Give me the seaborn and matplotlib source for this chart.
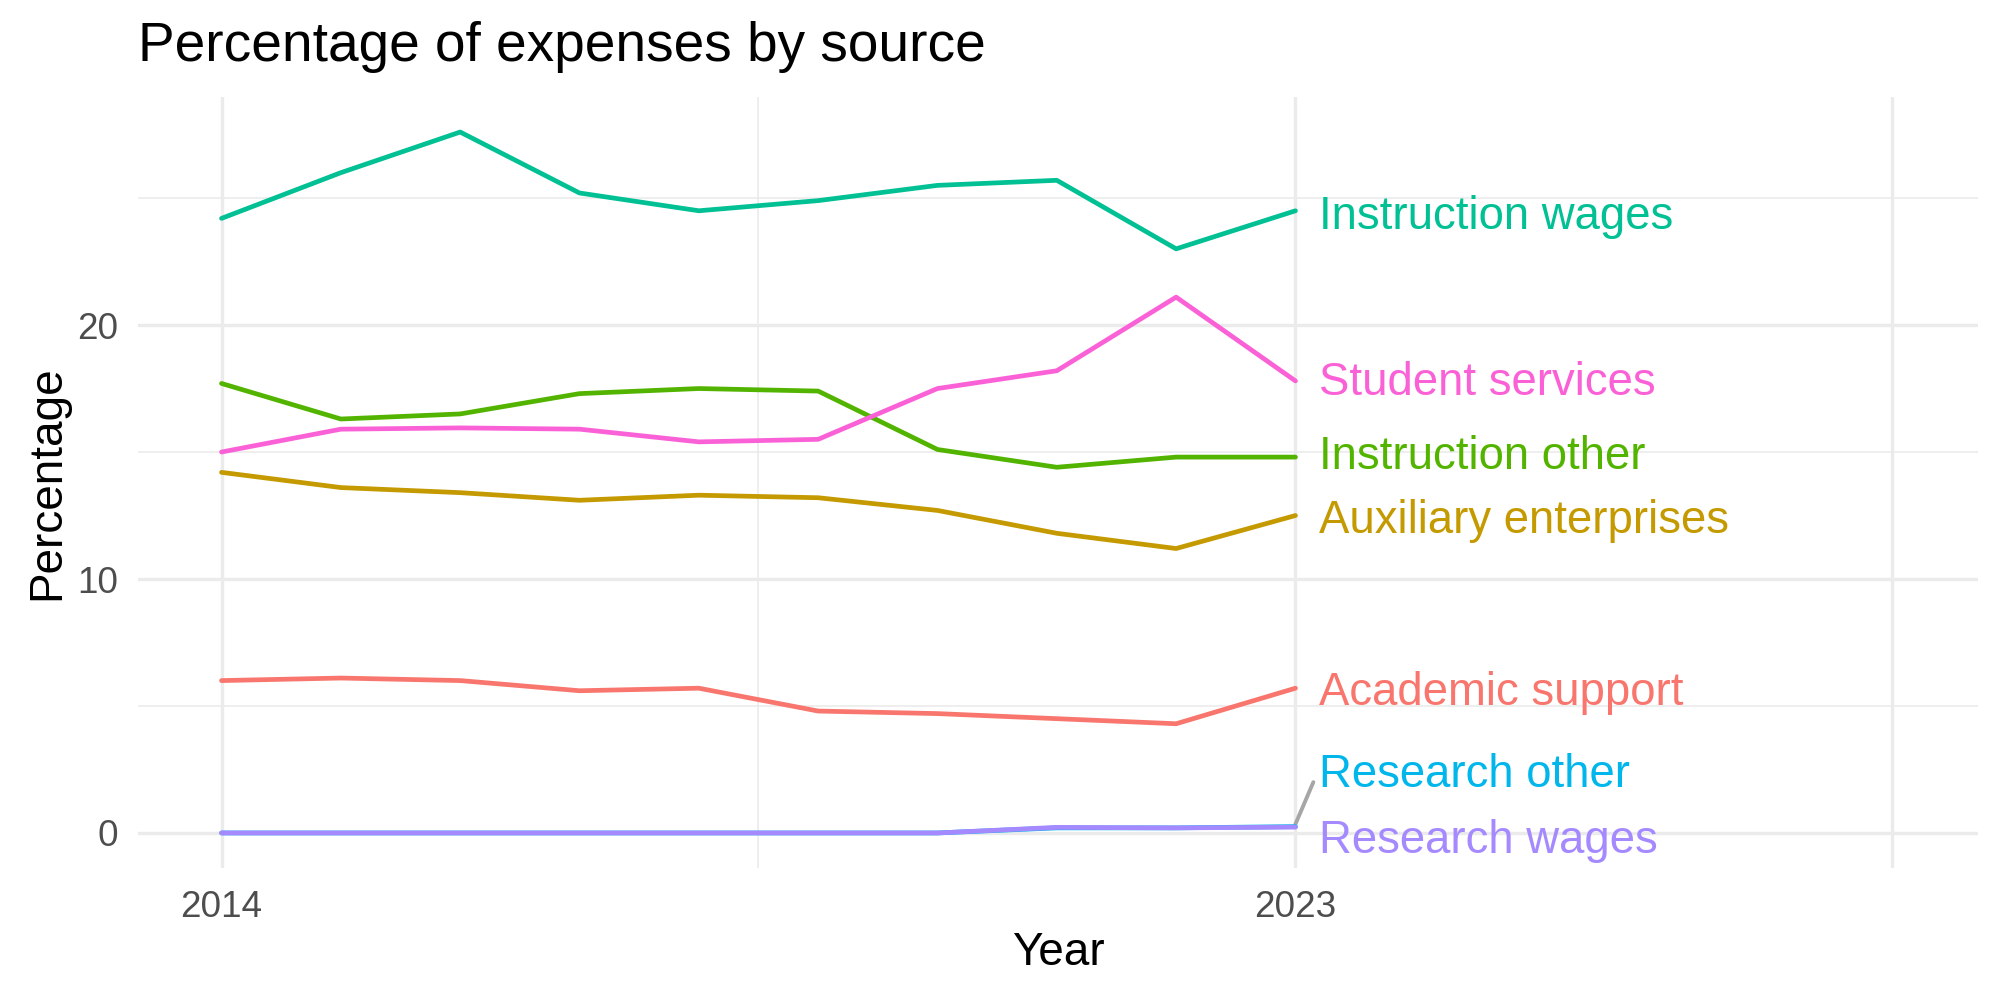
import numpy as np
import pandas as pd
import seaborn as sns
import matplotlib.pyplot as plt

years = list(range(2014, 2024))

academic_support = [6.0, 6.1, 6.0, 5.6, 5.7, 4.8, 4.7, 4.5, 4.3, 5.7]
auxiliary_enterprises = [14.2, 13.6, 13.4, 13.1, 13.3, 13.2, 12.7, 11.8, 11.2, 12.5]
instruction_other = [17.7, 16.3, 16.5, 17.3, 17.5, 17.4, 15.1, 14.4, 14.8, 14.8]
instruction_wages = [24.2, 26.0, 27.6, 25.2, 24.5, 24.9, 25.5, 25.7, 23.0, 24.5]
research_other = [0.0, 0.0, 0.0, 0.0, 0.0, 0.0, 0.0, 0.2, 0.2, 0.25]
research_wages = [0.0, 0.0, 0.0, 0.0, 0.0, 0.0, 0.0, 0.22, 0.2, 0.23]
student_services = [15.0, 15.9, 15.95, 15.9, 15.4, 15.5, 17.5, 18.2, 21.1, 17.8]

sources = ["Academic support", "Auxiliary enterprises", "Instruction other",
           "Instruction wages", "Research other", "Research wages", "Student services"]
colors = ["#F8766D", "#C49A00", "#53B400", "#00C094", "#00B6EB", "#A58AFF", "#FB61D7"]

# label y positions (repelled, as in the original)
label_y = [5.5, 12.3, 14.8, 24.25, 2.3, -0.3, 17.7]


def get_data():
    series = [academic_support, auxiliary_enterprises, instruction_other,
              instruction_wages, research_other, research_wages, student_services]
    rows = []
    for name, vals in zip(sources, series):
        for y, v in zip(years, vals):
            rows.append([y, v, name])
    return pd.DataFrame(rows, columns=["Year", "Percentage", "Source"])


def graph(df):
    sns.set_style("white")
    plt.rcParams["font.family"] = ["Liberation Sans", "DejaVu Sans"]
    plt.rcParams["text.color"] = "black"
    plt.rcParams["axes.labelcolor"] = "black"

    fig = plt.figure(figsize=(10, 5), dpi=200)
    ax = fig.add_axes([0.069, 0.132, 0.92, 0.771])

    # grid like theme_minimal
    for v in [2018.5]:
        ax.axvline(v, color="#EBEBEB", lw=0.6, zorder=0)
    for v in [2014, 2023, 2028]:
        ax.axvline(v, color="#EBEBEB", lw=1.2, zorder=0)
    for v in [5, 15, 25]:
        ax.axhline(v, color="#EBEBEB", lw=0.6, zorder=0)
    for v in [0, 10, 20]:
        ax.axhline(v, color="#EBEBEB", lw=1.2, zorder=0)

    sns.lineplot(data=df, x="Year", y="Percentage", hue="Source",
                 hue_order=sources, palette=colors, lw=1.7, ax=ax,
                 legend=False, zorder=3)

    last = df[df["Year"] == years[-1]].set_index("Source")["Percentage"]
    for name, c, ly in zip(sources, colors, label_y):
        ax.text(years[-1] + 0.2, ly, name, color=c, fontsize=16.4,
                ha="left", va="center", zorder=4)
        if name == "Research other":
            ax.plot([years[-1], years[-1] + 0.15], [last[name] + 0.1, 2.0],
                    color="#A6A6A6", lw=1.4, zorder=2)

    ax.set_xlim(2013.3, 2028.72)
    ax.set_ylim(-1.38, 28.98)
    ax.set_xticks([2014, 2023])
    ax.set_yticks([0, 10, 20])
    ax.tick_params(axis="both", length=0, labelsize=13.3, labelcolor="#4D4D4D")
    ax.tick_params(axis="x", pad=8)
    ax.tick_params(axis="y", pad=7)
    for s in ax.spines.values():
        s.set_visible(False)

    ax.set_xlabel("Year", fontsize=16.5, labelpad=2)
    ax.set_ylabel("Percentage", fontsize=16.5, labelpad=3)
    ax.set_title("Percentage of expenses by source", loc="left", fontsize=19.8,
                 pad=13, color="black")

    fig.savefig("out.png", dpi=200, facecolor="white")


def main():
    df = get_data()
    graph(df)


main()
